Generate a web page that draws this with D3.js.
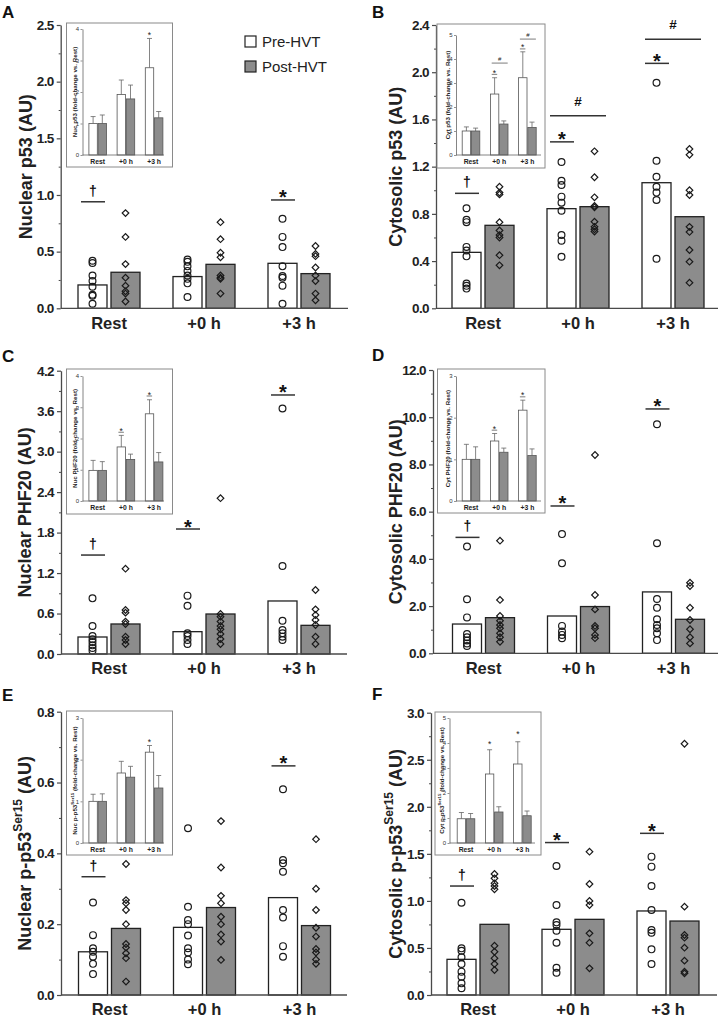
<!DOCTYPE html>
<html><head><meta charset="utf-8">
<script src="https://cdn.jsdelivr.net/npm/d3@7"></script>
<style>
body{margin:0;background:#fff}
svg{display:block}
text{font-family:"Liberation Sans",Arial,Helvetica,sans-serif}
</style>
</head><body>
<svg id="c" width="720" height="1022"></svg>
<script>
// ---------------- DATA ----------------
const categories = ["Rest", "+0 h", "+3 h"];
const seriesNames = ["Pre-HVT", "Post-HVT"];

// Panel A – Nuclear p53
const aPreMean = [0.206, 0.280, 0.397];
const aPostMean = [0.318, 0.388, 0.306];
const aPreDots = [[0.42,0.40,0.29,0.24,0.19,0.12,0.11,0.04],[0.43,0.41,0.37,0.33,0.29,0.26,0.22,0.10],[0.79,0.63,0.54,0.37,0.285,0.27,0.20,0.04]];
const aPostDots = [[0.84,0.63,0.39,0.27,0.20,0.15,0.13,0.06],[0.76,0.61,0.49,0.45,0.29,0.27,0.26,0.13],[0.55,0.48,0.46,0.36,0.29,0.24,0.13,0.07]];
const aTicks = [0, 0.5, 1.0, 1.5, 2.0, 2.5];
const aSig = [{cat:0, span:"pre", sym:"†", v:0.94}, {cat:2, span:"pre", sym:"*", v:0.956}];
const aInsetPre = [1.0, 1.92, 2.77], aInsetPreErr = [0.22, 0.46, 0.93];
const aInsetPost = [1.0, 1.78, 1.18], aInsetPostErr = [0.27, 0.44, 0.20];
const aInsetTicks = [0, 1, 2, 3, 4];
const aInsetSig = [{cat:2, span:"none", sym:"*", v:3.76}];

// Panel B – Cytosolic p53
const bPreMean = [0.474, 0.844, 1.064];
const bPostMean = [0.703, 0.861, 0.776];
const bPreDots = [[0.847,0.75,0.73,0.52,0.49,0.44,0.21,0.19,0.167],[1.24,1.08,1.045,0.946,0.895,0.827,0.62,0.573,0.437],[1.91,1.25,1.115,1.03,0.98,0.918,0.42]];
const bPostDots = [[1.03,0.98,0.965,0.73,0.66,0.62,0.60,0.45,0.364],[1.33,1.11,0.94,0.867,0.855,0.734,0.69,0.67,0.65],[1.35,1.30,1.0,0.96,0.69,0.647,0.494,0.395,0.217]];
const bTicks = [0, 0.4, 0.8, 1.2, 1.6, 2.0, 2.4];
const bSig = [{cat:0, span:"pre", sym:"†", v:0.974}, {cat:1, span:"pre", sym:"*", v:1.41}, {cat:1, span:"both", sym:"#", v:1.632}, {cat:2, span:"pre", sym:"*", v:2.075}, {cat:2, span:"both", sym:"#", v:2.28}];
const bInsetPre = [1.0, 2.54, 3.22], bInsetPreErr = [0.17, 0.68, 1.08];
const bInsetPost = [1.0, 1.29, 1.15], bInsetPostErr = [0.12, 0.13, 0.22];
const bInsetTicks = [0, 1, 2, 3, 4, 5];
const bInsetSig = [{cat:1, span:"pre", sym:"*", v:3.36}, {cat:1, span:"both", sym:"#", v:3.83}, {cat:2, span:"pre", sym:"*", v:4.42}, {cat:2, span:"both", sym:"#", v:4.83}];

// Panel C – Nuclear PHF20
const cPreMean = [0.252, 0.331, 0.786];
const cPostMean = [0.445, 0.593, 0.425];
const cPreDots = [[0.825,0.415,0.267,0.217,0.178,0.128,0.09,0.05],[0.865,0.716,0.306,0.267,0.207,0.148],[3.64,1.304,0.494,0.356,0.306,0.257,0.207]];
const cPostDots = [[1.265,0.652,0.613,0.48,0.445,0.257,0.208,0.148],[2.31,0.593,0.553,0.48,0.415,0.366,0.296,0.222,0.148],[0.949,0.662,0.578,0.504,0.43,0.257,0.148]];
const cTicks = [0, 0.6, 1.2, 1.8, 2.4, 3.0, 3.6, 4.2];
const cSig = [{cat:0, span:"pre", sym:"†", v:1.467}, {cat:1, span:"pre", sym:"*", v:1.853}, {cat:2, span:"pre", sym:"*", v:3.84}];
const cInsetPre = [0.98, 1.73, 2.79], cInsetPreErr = [0.32, 0.37, 0.45];
const cInsetPost = [0.98, 1.33, 1.25], cInsetPostErr = [0.28, 0.17, 0.30];
const cInsetTicks = [0, 1, 2, 3, 4];
const cInsetSig = [{cat:1, span:"pre", sym:"*", v:2.2}, {cat:2, span:"pre", sym:"*", v:3.36}];

// Panel D – Cytosolic PHF20
const dPreMean = [1.24, 1.58, 2.60];
const dPostMean = [1.51, 1.98, 1.44];
const dPreDots = [[4.52,2.29,1.52,0.82,0.68,0.54,0.42,0.31],[5.05,3.81,1.16,0.92,0.78,0.64],[9.7,4.66,2.3,1.93,1.44,1.2,1.06,0.85,0.56]];
const dPostDots = [[4.77,2.26,1.58,1.38,1.2,1.06,0.85,0.68,0.49],[8.4,2.47,1.86,1.16,1.06,0.78,0.64],[2.99,2.85,1.93,1.41,1.02,0.68,0.42]];
const dTicks = [0, 2, 4, 6, 8, 10, 12];
const dSig = [{cat:0, span:"pre", sym:"†", v:4.91}, {cat:1, span:"pre", sym:"*", v:6.24}, {cat:2, span:"pre", sym:"*", v:10.35}];
const dInsetPre = [1.0, 1.44, 2.18], dInsetPreErr = [0.36, 0.18, 0.24];
const dInsetPost = [1.0, 1.17, 1.09], dInsetPostErr = [0.30, 0.10, 0.16];
const dInsetTicks = [0, 1, 2, 3];
const dInsetSig = [{cat:1, span:"pre", sym:"*", v:1.70}, {cat:2, span:"pre", sym:"*", v:2.5}];

// Panel E – Nuclear p-p53 Ser15
const ePreMean = [0.122, 0.191, 0.275];
const ePostMean = [0.188, 0.247, 0.196];
const ePreDots = [[0.261,0.169,0.132,0.122,0.108,0.088,0.059],[0.471,0.249,0.212,0.2,0.168,0.132,0.12,0.1,0.087],[0.581,0.381,0.372,0.348,0.24,0.219,0.138,0.108]];
const ePostDots = [[0.37,0.268,0.259,0.24,0.2,0.144,0.134,0.118,0.104,0.038],[0.491,0.36,0.28,0.259,0.221,0.2,0.171,0.151,0.099],[0.44,0.3,0.24,0.19,0.165,0.13,0.12,0.1,0.088]];
const eTicks = [0, 0.2, 0.4, 0.6, 0.8];
const eSig = [{cat:0, span:"pre", sym:"†", v:0.334}, {cat:2, span:"pre", sym:"*", v:0.647}];
const eInsetPre = [1.0, 1.68, 2.18], eInsetPreErr = [0.17, 0.28, 0.16];
const eInsetPost = [1.0, 1.58, 1.32], eInsetPostErr = [0.18, 0.26, 0.30];
const eInsetTicks = [0, 1, 2, 3];
const eInsetSig = [{cat:2, span:"none", sym:"*", v:2.39}];

// Panel F – Cytosolic p-p53 Ser15
const fPreMean = [0.379, 0.698, 0.893];
const fPostMean = [0.751, 0.804, 0.786];
const fPreDots = [[0.98,0.496,0.471,0.4,0.33,0.248,0.195,0.124,0.071],[1.371,0.956,0.772,0.744,0.684,0.556,0.29,0.237],[1.47,1.364,1.158,0.903,0.69,0.662,0.485,0.33]];
const fPostDots = [[1.286,1.24,1.187,1.158,1.123,0.524,0.46,0.39,0.33,0.266],[1.523,1.18,0.999,0.956,0.655,0.556,0.283],[2.67,0.939,0.638,0.609,0.503,0.365,0.248,0.23]];
const fTicks = [0, 0.5, 1.0, 1.5, 2.0, 2.5, 3.0];
const fSig = [{cat:0, span:"pre", sym:"†", v:1.158}, {cat:1, span:"pre", sym:"*", v:1.62}, {cat:2, span:"pre", sym:"*", v:1.718}];
const fInsetPre = [0.97, 2.76, 3.16], fInsetPreErr = [0.25, 0.97, 0.89];
const fInsetPost = [0.97, 1.24, 1.09], fInsetPostErr = [0.21, 0.21, 0.19];
const fInsetTicks = [0, 1, 2, 3, 4, 5];
const fInsetSig = [{cat:1, span:"none", sym:"*", v:3.9}, {cat:2, span:"none", sym:"*", v:4.3}];

// ---------------- LAYOUT ----------------
const GRAY = "#8c8c8c", INK = "#222", AXIS = "#4a4a4a";
const svg = d3.select("#c");

const panels = [
  {letter:"A", lx:2, ly:18, pre:aPreMean, post:aPostMean, preDots:aPreDots, postDots:aPostDots, ticks:aTicks, sig:aSig,
   title:["Nuclear p53", null, " (AU)"], x0:60.7, yTop:25, yBot:308.3, xEnd:348, c0:109, titleX:26,
   inset:{pre:aInsetPre, preErr:aInsetPreErr, post:aInsetPost, postErr:aInsetPostErr, ticks:aInsetTicks, sig:aInsetSig,
     title:["Nuc p53", null, " (fold-change vs. Rest)"], box:[66.5,23,172.5,167], ax:82.5, yTop:29, yBot:155, xEnd:164, c0:97.7, titleX:74}},
  {letter:"B", lx:372, ly:18, pre:bPreMean, post:bPostMean, preDots:bPreDots, postDots:bPostDots, ticks:bTicks, sig:bSig,
   title:["Cytosolic p53", null, " (AU)"], x0:436, yTop:25, yBot:308.3, xEnd:718, c0:483, titleX:396,
   inset:{pre:bInsetPre, preErr:bInsetPreErr, post:bInsetPost, postErr:bInsetPostErr, ticks:bInsetTicks, sig:bInsetSig,
     title:["Cyt p53", null, " (fold-change vs. Rest)"], box:[437,24,545,168], ax:456, yTop:35, yBot:155, xEnd:541, c0:471, titleX:447}},
  {letter:"C", lx:2, ly:362, pre:cPreMean, post:cPostMean, preDots:cPreDots, postDots:cPostDots, ticks:cTicks, sig:cSig,
   title:["Nuclear PHF20", null, " (AU)"], x0:61, yTop:370.7, yBot:654, xEnd:347, c0:109, titleX:25,
   inset:{pre:cInsetPre, preErr:cInsetPreErr, post:cInsetPost, postErr:cInsetPostErr, ticks:cInsetTicks, sig:cInsetSig,
     title:["Nuc PHF20", null, " (fold-change vs. Rest)"], box:[66.5,369,172.5,514], ax:82.5, yTop:376, yBot:501, xEnd:164, c0:97.7, titleX:74}},
  {letter:"D", lx:372, ly:361, pre:dPreMean, post:dPostMean, preDots:dPreDots, postDots:dPostDots, ticks:dTicks, sig:dSig,
   title:["Cytosolic PHF20", null, " (AU)"], x0:433, yTop:370, yBot:653.3, xEnd:718, c0:483.5, titleX:396,
   inset:{pre:dInsetPre, preErr:dInsetPreErr, post:dInsetPost, postErr:dInsetPostErr, ticks:dInsetTicks, sig:dInsetSig,
     title:["Cyt PHF20", null, " (fold-change vs. Rest)"], box:[437.5,369,545,513], ax:456, yTop:376, yBot:501, xEnd:541, c0:471, titleX:447}},
  {letter:"E", lx:2, ly:701, pre:ePreMean, post:ePostMean, preDots:ePreDots, postDots:ePostDots, ticks:eTicks, sig:eSig,
   title:["Nuclear p-p53", "Ser15", " (AU)"], x0:61, yTop:711.7, yBot:995, xEnd:347, c0:109.5, titleX:25,
   inset:{pre:eInsetPre, preErr:eInsetPreErr, post:eInsetPost, postErr:eInsetPostErr, ticks:eInsetTicks, sig:eInsetSig,
     title:["Nuc p-p53", "Ser15", " (fold-change vs. Rest)"], box:[66.5,711,172.5,855], ax:82.5, yTop:718, yBot:843, xEnd:164, c0:97.7, titleX:74}},
  {letter:"F", lx:372, ly:700, pre:fPreMean, post:fPostMean, preDots:fPreDots, postDots:fPostDots, ticks:fTicks, sig:fSig,
   title:["Cytosolic p-p53", "Ser15", " (AU)"], x0:431, yTop:712.7, yBot:995, xEnd:717, c0:478, titleX:396,
   inset:{pre:fInsetPre, preErr:fInsetPreErr, post:fInsetPost, postErr:fInsetPostErr, ticks:fInsetTicks, sig:fInsetSig,
     title:["Cyt p-p53", "Ser15", " (fold-change vs. Rest)"], box:[435,712,541,855], ax:449.5, yTop:718, yBot:843, xEnd:535, c0:466, titleX:441}}
];

function addTitle(g, parts, x, y, size, supSize, supShift) {
  const t = g.append("text")
    .attr("transform", `translate(${x},${y}) rotate(-90)`)
    .attr("text-anchor", "middle").attr("dominant-baseline", "central")
    .attr("font-weight", "bold").attr("font-size", size).attr("fill", INK);
  t.append("tspan").text(parts[0]);
  if (parts[1]) {
    t.append("tspan").attr("font-size", supSize).attr("dy", -supShift).text(parts[1]);
    t.append("tspan").attr("dy", supShift).text(parts[2]);
  } else {
    t.append("tspan").text(parts[2]);
  }
}

function drawMain(p) {
  const g = svg.append("g");
  const ymax = p.ticks[p.ticks.length - 1];
  const y = d3.scaleLinear().domain([0, ymax]).range([p.yBot, p.yTop]);
  const step = 95;
  const x = d3.scaleBand().domain(categories).range([p.c0 - step / 2, p.c0 - step / 2 + step * 3]);
  const cx = c => x(c) + x.bandwidth() / 2;
  const bw = 29;

  const rows = categories.map((c, i) => ({c, i, pre: p.pre[i], post: p.post[i]}));
  g.selectAll("rect.pre").data(rows).join("rect")
    .attr("x", d => cx(d.c) - 31).attr("width", bw)
    .attr("y", d => y(d.pre)).attr("height", d => y(0) - y(d.pre))
    .attr("fill", "#fff").attr("stroke", INK).attr("stroke-width", 1.3);
  g.selectAll("rect.post").data(rows).join("rect")
    .attr("x", d => cx(d.c) + 2).attr("width", bw)
    .attr("y", d => y(d.post)).attr("height", d => y(0) - y(d.post))
    .attr("fill", GRAY).attr("stroke", INK).attr("stroke-width", 1.3);

  const preDots = [], postDots = [];
  categories.forEach((c, i) => {
    p.preDots[i].forEach(v => preDots.push({c, v}));
    p.postDots[i].forEach(v => postDots.push({c, v}));
  });
  g.selectAll("circle.d").data(preDots).join("circle")
    .attr("cx", d => cx(d.c) - 16.5).attr("cy", d => y(d.v)).attr("r", 3.4)
    .attr("fill", "none").attr("stroke", "#1a1a1a").attr("stroke-width", 1.2);
  const diamond = d3.symbol().type(d3.symbolSquare).size(22)();
  g.selectAll("path.d").data(postDots).join("path")
    .attr("d", diamond)
    .attr("transform", d => `translate(${cx(d.c) + 16.5},${y(d.v)}) rotate(45)`)
    .attr("fill", "none").attr("stroke", "#1a1a1a").attr("stroke-width", 1.2);

  const minor = [];
  for (let k = 0; k < p.ticks.length - 1; k++) minor.push((p.ticks[k] + p.ticks[k + 1]) / 2);
  const gMinor = g.append("g").attr("transform", `translate(${p.x0},0)`)
    .call(d3.axisLeft(y).tickValues(minor).tickSize(2).tickFormat(""));
  gMinor.select(".domain").remove();
  gMinor.selectAll("line").attr("stroke", AXIS);
  const gy = g.append("g").attr("transform", `translate(${p.x0},0)`)
    .call(d3.axisLeft(y).tickValues(p.ticks).tickSize(4).tickSizeOuter(0).tickPadding(3).tickFormat(d => d.toFixed(1)));
  gy.select(".domain").attr("stroke", AXIS).attr("stroke-width", 1.3);
  gy.selectAll(".tick line").attr("stroke", AXIS).attr("stroke-width", 1.2);
  gy.selectAll(".tick text").attr("font-size", 13.5).attr("font-weight", "bold").attr("fill", INK)
    .attr("letter-spacing", "-0.6px").attr("font-family", "'Liberation Sans',Arial,sans-serif");

  g.append("line").attr("x1", p.x0).attr("x2", p.xEnd).attr("y1", y(0)).attr("y2", y(0))
    .attr("stroke", AXIS).attr("stroke-width", 1.3);
  const gx = g.append("g").attr("transform", `translate(0,${y(0)})`)
    .call(d3.axisBottom(x).tickSize(0).tickPadding(8.5));
  gx.select(".domain").remove();
  gx.selectAll("text").attr("font-size", 16.5).attr("font-weight", "bold").attr("fill", INK)
    .attr("font-family", "'Liberation Sans',Arial,sans-serif");

  p.sig.forEach(s => {
    const c = cx(categories[s.cat]);
    const xa = c - 28, xb = s.span === "both" ? c + 28 : c - 4;
    const yy = y(s.v);
    g.append("line").attr("x1", xa).attr("x2", xb).attr("y1", yy).attr("y2", yy)
      .attr("stroke", "#333").attr("stroke-width", 1.5);
    const t = g.append("text").attr("x", (xa + xb) / 2).attr("text-anchor", "middle")
      .attr("font-weight", "bold").attr("fill", "#111").text(s.sym);
    if (s.sym === "*") t.attr("font-size", 20).attr("y", yy + 4.5);
    else if (s.sym === "#") t.attr("font-size", 13.5).attr("y", yy - 10);
    else t.attr("font-size", 14).attr("y", yy - 6);
  });

  addTitle(g, p.title, p.titleX, (p.yTop + p.yBot) / 2, 18, 12, 7);

  svg.append("text").attr("x", p.lx).attr("y", p.ly).attr("font-size", 17).attr("font-weight", "bold")
    .attr("fill", "#111").text(p.letter);

  drawInset(p.inset);
}

function drawInset(q) {
  const g = svg.append("g");
  const [bx0, by0, bx1, by1] = q.box;
  g.append("rect").attr("x", bx0).attr("y", by0).attr("width", bx1 - bx0).attr("height", by1 - by0)
    .attr("fill", "#fff").attr("stroke", "#8a8a8a").attr("stroke-width", 1);
  const ymax = q.ticks[q.ticks.length - 1];
  const y = d3.scaleLinear().domain([0, ymax]).range([q.yBot, q.yTop]);
  const step = 28.2;
  const x = d3.scaleBand().domain(categories).range([q.c0 - step / 2, q.c0 - step / 2 + step * 3]);
  const cx = c => x(c) + x.bandwidth() / 2;
  const bw = 8.4;
  const rows = categories.map((c, i) => ({c, pre: q.pre[i], post: q.post[i], preErr: q.preErr[i], postErr: q.postErr[i]}));

  const errs = [];
  rows.forEach(r => {
    errs.push({x: cx(r.c) - 8.8 + bw / 2, v: r.pre, e: r.preErr});
    errs.push({x: cx(r.c) + 0.4 + bw / 2, v: r.post, e: r.postErr});
  });
  g.selectAll("line.ev").data(errs).join("line")
    .attr("x1", d => d.x).attr("x2", d => d.x).attr("y1", d => y(d.v)).attr("y2", d => y(d.v + d.e))
    .attr("stroke", "#666").attr("stroke-width", 0.8);
  g.selectAll("line.ec").data(errs).join("line")
    .attr("x1", d => d.x - 2.5).attr("x2", d => d.x + 2.5).attr("y1", d => y(d.v + d.e)).attr("y2", d => y(d.v + d.e))
    .attr("stroke", "#666").attr("stroke-width", 0.8);

  g.selectAll("rect.pre").data(rows).join("rect")
    .attr("x", d => cx(d.c) - 8.8).attr("width", bw)
    .attr("y", d => y(d.pre)).attr("height", d => y(0) - y(d.pre))
    .attr("fill", "#fff").attr("stroke", "#555").attr("stroke-width", 0.8);
  g.selectAll("rect.post").data(rows).join("rect")
    .attr("x", d => cx(d.c) + 0.4).attr("width", bw)
    .attr("y", d => y(d.post)).attr("height", d => y(0) - y(d.post))
    .attr("fill", GRAY).attr("stroke", "#555").attr("stroke-width", 0.8);

  const gy = g.append("g").attr("transform", `translate(${q.ax},0)`)
    .call(d3.axisLeft(y).tickValues(q.ticks).tickSize(2).tickSizeOuter(0).tickPadding(1.5).tickFormat(d3.format("d")));
  gy.select(".domain").attr("stroke", "#666").attr("stroke-width", 0.8);
  gy.selectAll(".tick line").attr("stroke", "#666").attr("stroke-width", 0.7);
  gy.selectAll(".tick text").attr("font-size", 6).attr("fill", "#333").attr("font-family", "'Liberation Sans',Arial,sans-serif");
  g.append("line").attr("x1", q.ax).attr("x2", q.xEnd).attr("y1", y(0)).attr("y2", y(0))
    .attr("stroke", "#666").attr("stroke-width", 0.8);
  const gx = g.append("g").attr("transform", `translate(0,${y(0)})`)
    .call(d3.axisBottom(x).tickSize(0).tickPadding(4.5));
  gx.select(".domain").remove();
  gx.selectAll("text").attr("font-size", 6.8).attr("font-weight", "bold").attr("fill", "#222")
    .attr("font-family", "'Liberation Sans',Arial,sans-serif");

  q.sig.forEach(s => {
    const c = cx(categories[s.cat]);
    const xa = c - 7.5, xb = s.span === "both" ? c + 8.5 : c - 2;
    const yy = y(s.v);
    let mid = c - 4.6;
    if (s.span !== "none") {
      g.append("line").attr("x1", xa).attr("x2", xb).attr("y1", yy).attr("y2", yy)
        .attr("stroke", "#444").attr("stroke-width", 0.7);
      mid = (xa + xb) / 2;
    }
    const t = g.append("text").attr("x", mid).attr("text-anchor", "middle").attr("fill", "#222").text(s.sym);
    if (s.sym === "*") t.attr("font-size", 8.5).attr("y", yy + 1.5);
    else t.attr("font-size", 6).attr("y", yy - 2.5);
  });

  addTitle(g, q.title, q.titleX, (q.yTop + q.yBot) / 2, 6.2, 4.4, 2.4);
}

panels.forEach(drawMain);

const leg = svg.append("g");
seriesNames.forEach((n, i) => {
  leg.append("rect").attr("x", 245).attr("y", 36 + i * 25).attr("width", 11).attr("height", 11)
    .attr("fill", i === 0 ? "#fff" : GRAY).attr("stroke", INK).attr("stroke-width", 1.2);
  leg.append("text").attr("x", 262).attr("y", 46.5 + i * 25).attr("font-size", 15).attr("fill", INK).text(n);
});
</script>
</body></html>
